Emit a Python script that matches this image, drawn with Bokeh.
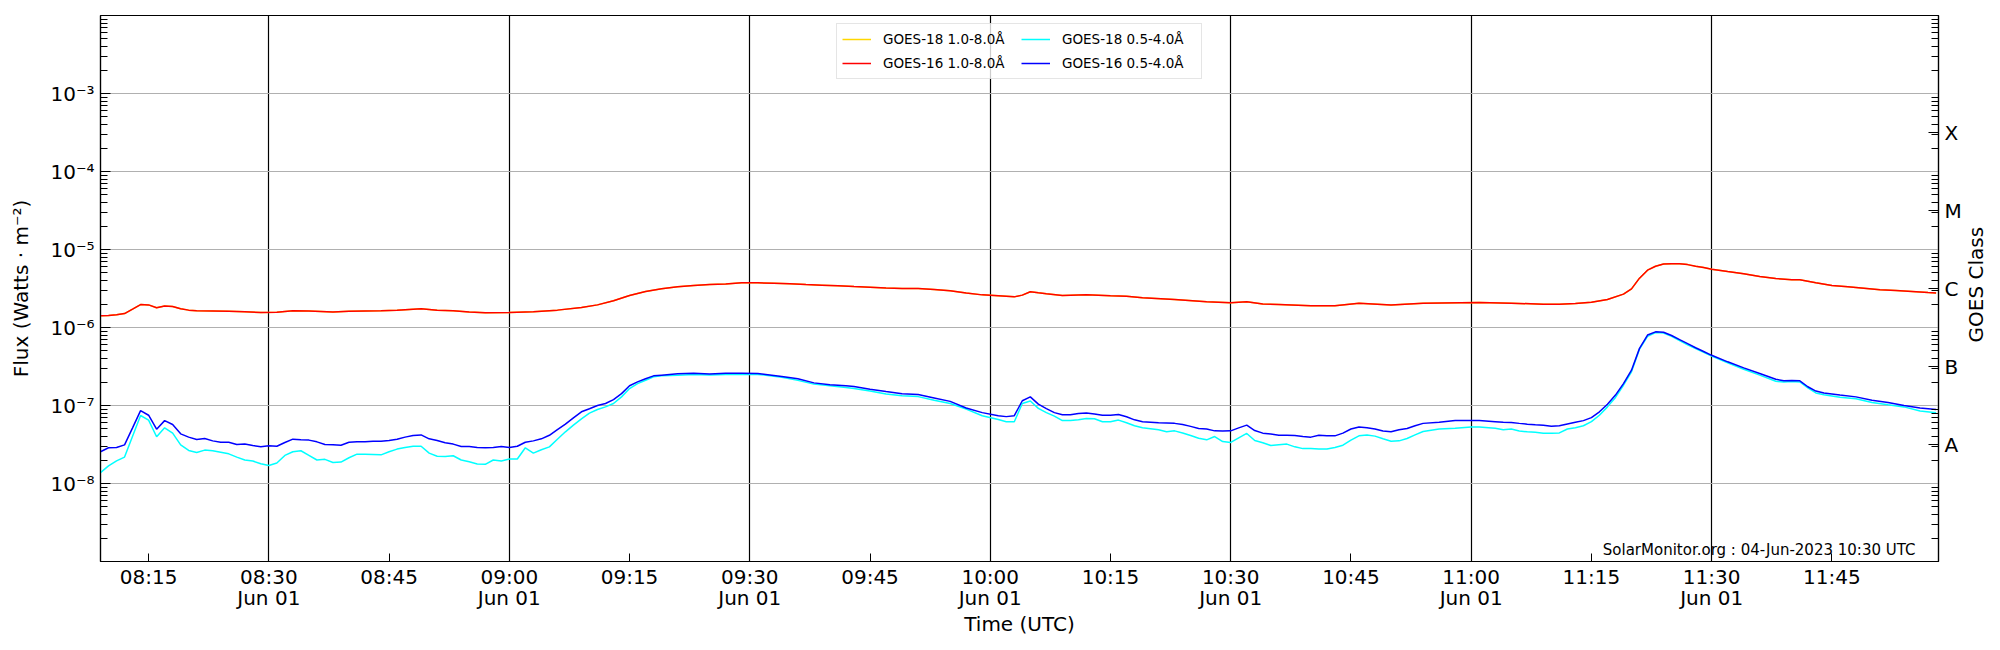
import datetime as dt
import numpy as np
from bokeh.plotting import figure
from bokeh.layouts import row
from bokeh.models import (FixedTicker, CustomJSTickFormatter, LogAxis, Range1d,
                          Legend, LegendItem, Label)
from bokeh.core.properties import value
from bokeh.embed import file_html
from bokeh.resources import INLINE

# ---------------- data ----------------
START = "2023-06-01 08:09"          # first sample time (UTC)

# minutes after START for the 0.5-4.0 Å channels
SHORT_MIN = [
    0, 1, 2, 3, 4, 5, 6, 7, 8, 9,
    10, 11, 12, 13, 14, 15, 16, 17, 18, 19,
    20, 21, 22, 23, 24, 25, 26, 27, 28, 29,
    30, 31, 32, 33, 34, 35, 36, 37, 38, 39,
    40, 41, 42, 43, 44, 45, 46, 47, 48, 49,
    50, 51, 52, 53, 54, 55, 56, 57, 58, 59,
    60, 61, 62, 63, 64, 65, 66, 67, 68, 69,
    70, 72, 74, 76, 78, 80, 82, 83, 85, 87,
    89, 91, 93, 94, 96, 98, 100, 102, 104, 106,
    108, 110, 112, 113, 114, 115, 116, 117, 118, 119,
    120, 121, 122, 123, 124, 125, 126, 127, 128, 129,
    130, 132, 133, 134, 135, 136, 137, 138, 139, 140,
    141, 142, 143, 144, 145, 146, 147, 148, 149, 150,
    151, 152, 153, 154, 155, 156, 157, 158, 159, 160,
    161, 162, 163, 164, 165, 167, 169, 171, 172, 174,
    175, 176, 177, 178, 179, 180, 181, 182, 183, 184,
    185, 186, 187, 188, 189, 190, 191, 192, 193, 194,
    195, 196, 197, 198, 199, 200, 201, 203, 205, 207,
    209, 210, 211, 212, 213, 214, 215, 217, 219, 221,
    223, 225, 227, 229,
]
# GOES-16 0.5-4.0 Å, units of 1e-8 W m^-2
G16_SHORT_E8 = [
    2.55, 2.87, 2.90, 3.13, 5.17, 8.6, 7.5, 4.97, 6.4, 5.7,
    4.33, 3.93, 3.66, 3.78, 3.52, 3.38, 3.38, 3.16, 3.2, 3.07,
    2.95, 3.05, 3.0, 3.35, 3.7, 3.63, 3.6, 3.42, 3.16, 3.13,
    3.1, 3.38, 3.42, 3.42, 3.49, 3.49, 3.56, 3.7, 3.93, 4.12,
    4.2, 3.74, 3.56, 3.33, 3.2, 2.98, 2.98, 2.9, 2.87, 2.9,
    2.98, 2.9, 3.0, 3.38, 3.52, 3.74, 4.15, 4.9, 5.76, 6.95,
    8.3, 9.1, 10.0, 10.6, 11.9, 14.2, 17.9, 20.1, 22.0, 24.0,
    24.5, 25.5, 26.0, 25.3, 26.0, 26.0, 25.7, 25.0, 23.5, 22.0,
    19.5, 18.4, 17.9, 17.5, 16.2, 15.1, 14.1, 13.8, 12.5, 11.3,
    9.3, 8.1, 7.4, 7.2, 7.4, 11.5, 12.9, 10.4, 9.1, 8.1,
    7.6, 7.6, 7.9, 8.0, 7.8, 7.5, 7.5, 7.66, 7.16, 6.55,
    6.2, 6.0, 5.95, 5.9, 5.7, 5.4, 5.07, 5.0, 4.73, 4.7,
    4.73, 5.17, 5.6, 4.78, 4.42, 4.3, 4.16, 4.14, 4.12, 4.0,
    3.93, 4.16, 4.1, 4.08, 4.42, 5.0, 5.3, 5.2, 5.0, 4.7,
    4.6, 4.9, 5.07, 5.5, 5.9, 6.1, 6.4, 6.4, 6.4, 6.2,
    6.1, 6.05, 5.9, 5.76, 5.65, 5.6, 5.43, 5.5, 5.8, 6.1,
    6.4, 7.0, 8.3, 10.4, 13.6, 19.1, 28.4, 54.0, 80.0, 88.0,
    87.0, 79.0, 70.0, 62.0, 55.0, 49.3, 44.0, 36.3, 30.4, 25.7,
    21.7, 20.7, 20.9, 20.7, 17.4, 15.3, 14.5, 13.6, 12.9, 11.7,
    10.9, 10.0, 9.3, 8.9,
]
# GOES-18 0.5-4.0 Å, units of 1e-8 W m^-2
G18_SHORT_E8 = [
    1.38, 1.68, 1.95, 2.18, 4.04, 7.44, 6.5, 3.97, 5.17, 4.42,
    3.13, 2.65, 2.5, 2.68, 2.63, 2.52, 2.4, 2.18, 2.0, 1.94,
    1.79, 1.7, 1.83, 2.29, 2.55, 2.63, 2.3, 2.0, 2.04, 1.86,
    1.88, 2.14, 2.38, 2.38, 2.36, 2.33, 2.55, 2.76, 2.9, 3.0,
    3.0, 2.45, 2.24, 2.22, 2.27, 2.0, 1.9, 1.78, 1.76, 2.0,
    1.94, 2.06, 2.06, 2.87, 2.45, 2.71, 2.95, 3.7, 4.6, 5.6,
    6.75, 8.0, 8.9, 9.6, 10.6, 12.9, 16.5, 19.1, 21.1, 23.3,
    24.0, 24.5, 25.0, 24.6, 25.0, 25.0, 25.0, 24.5, 23.0, 21.0,
    18.8, 17.9, 17.0, 16.5, 15.3, 14.0, 13.3, 13.0, 11.7, 10.6,
    9.0, 7.4, 6.6, 6.2, 6.2, 10.6, 11.4, 9.2, 8.1, 7.3,
    6.4, 6.4, 6.55, 6.8, 6.75, 6.2, 6.2, 6.5, 6.0, 5.5,
    5.2, 4.9, 4.6, 4.73, 4.45, 4.12, 3.8, 3.63, 4.0, 3.45,
    3.36, 3.85, 4.38, 3.56, 3.33, 3.07, 3.15, 3.2, 2.95, 2.8,
    2.8, 2.76, 2.76, 2.9, 3.1, 3.6, 4.08, 4.2, 4.05, 3.74,
    3.49, 3.52, 3.78, 4.2, 4.65, 5.0, 5.1, 5.3, 5.3, 5.1,
    4.9, 5.0, 4.7, 4.6, 4.55, 4.42, 4.4, 4.45, 5.0, 5.2,
    5.5, 6.2, 7.5, 9.6, 12.7, 18.2, 27.0, 53.0, 77.0, 86.0,
    85.0, 77.0, 68.0, 60.0, 53.5, 48.0, 43.0, 35.3, 29.2, 24.5,
    20.5, 20.0, 20.3, 20.0, 16.8, 14.5, 13.7, 12.8, 12.2, 10.9,
    10.2, 9.6, 8.5, 8.1,
]

# minutes after START for the 1.0-8.0 Å channels
LONG_MIN = [
    0, 1, 2, 3, 4, 5, 6, 7, 8, 9,
    10, 11, 12, 14, 16, 18, 20, 22, 24, 26,
    29, 31, 35, 37, 39, 40, 42, 44, 46, 48,
    51, 54, 57, 60, 62, 64, 66, 68, 70, 72,
    74, 76, 78, 80, 82, 84, 86, 88, 90, 92,
    94, 96, 98, 100, 102, 104, 106, 108, 110, 112,
    114, 115, 116, 117, 118, 120, 123, 126, 128, 130,
    134, 138, 141, 143, 145, 147, 151, 154, 157, 161,
    165, 172, 176, 180, 182, 184, 186, 188, 190, 191,
    192, 193, 194, 195, 196, 197, 198, 199, 200, 201,
    203, 205, 207, 209, 211, 212, 214, 216, 218, 220,
    222, 224, 226, 228, 229,
]
# GOES-16 (and GOES-18, drawn underneath) 1.0-8.0 Å, units of 1e-6 W m^-2
G16_LONG_E6 = [
    1.41, 1.43, 1.46, 1.51, 1.72, 1.97, 1.95, 1.79, 1.89, 1.86,
    1.74, 1.67, 1.64, 1.63, 1.61, 1.59, 1.56, 1.57, 1.64, 1.63,
    1.58, 1.61, 1.64, 1.67, 1.72, 1.74, 1.67, 1.64, 1.58, 1.55,
    1.56, 1.59, 1.67, 1.80, 1.95, 2.20, 2.57, 2.90, 3.13, 3.32,
    3.45, 3.55, 3.62, 3.74, 3.74, 3.70, 3.65, 3.55, 3.49, 3.42,
    3.35, 3.29, 3.22, 3.16, 3.16, 3.07, 2.95, 2.76, 2.62, 2.55,
    2.47, 2.60, 2.87, 2.78, 2.70, 2.57, 2.62, 2.55, 2.52, 2.40,
    2.29, 2.14, 2.08, 2.14, 2.00, 1.97, 1.90, 1.90, 2.05, 1.95,
    2.05, 2.09, 2.05, 1.99, 1.99, 2.03, 2.11, 2.29, 2.68, 3.13,
    4.29, 5.43, 6.10, 6.50, 6.55, 6.55, 6.40, 6.10, 5.88, 5.60,
    5.22, 4.88, 4.50, 4.25, 4.10, 4.10, 3.74, 3.45, 3.32, 3.19,
    3.04, 2.98, 2.90, 2.80, 2.76,
]
G18_LONG_E6 = list(G16_LONG_E6)

TICK_TIMES = ["08:15", "08:30", "08:45", "09:00", "09:15", "09:30", "09:45",
              "10:00", "10:15", "10:30", "10:45", "11:00", "11:15", "11:30", "11:45"]
GRID_TIMES = ["08:30", "09:00", "09:30", "10:00", "10:30", "11:00", "11:30"]
DATE_LABEL = "Jun 01"
FLUX_DECADES = [-8, -7, -6, -5, -4, -3]
CLASS_LABELS = ["A", "B", "C", "M", "X"]
CLASS_EXP = [-7.5, -6.5, -5.5, -4.5, -3.5]
LEGEND_LABELS = ["GOES-18 1.0-8.0Å", "GOES-18 0.5-4.0Å", "GOES-16 1.0-8.0Å", "GOES-16 0.5-4.0Å"]
WATERMARK = "SolarMonitor.org : 04-Jun-2023 10:30 UTC"
RIGHT_LABEL = "GOES Class"

# ---------------- helpers ----------------
t0 = dt.datetime.strptime(START, "%Y-%m-%d %H:%M")
EPOCH = dt.datetime(1970, 1, 1)


def ms(t):
    return (t - EPOCH).total_seconds() * 1000.0


def at_clock(hhmm):
    h, m = map(int, hhmm.split(":"))
    return t0.replace(hour=h, minute=m)


x_short = [t0 + dt.timedelta(minutes=m) for m in SHORT_MIN]
x_long = [t0 + dt.timedelta(minutes=m) for m in LONG_MIN]
g16s = np.array(G16_SHORT_E8) * 1e-8
g18s = np.array(G18_SHORT_E8) * 1e-8
g16l = np.array(G16_LONG_E6) * 1e-6
g18l = np.array(G18_LONG_E6) * 1e-6

FONT = "DejaVu Sans"
W, H = 1964, 645                 # main figure
QW = 31                          # narrow strip holding the right-hand axis title
FL, FT, FR, FB = 100, 15, 1940, 561      # frame edges on the page

x_end = t0 + dt.timedelta(minutes=LONG_MIN[-1] + 0.3)
p = figure(width=W, height=H, x_axis_type="datetime", y_axis_type="log",
           x_range=Range1d(t0, x_end), y_range=Range1d(1e-9, 1e-2),
           output_backend="svg", toolbar_location=None,
           min_border_left=FL, min_border_right=W - FR, min_border_top=FT,
           min_border_bottom=H - FB)
p.background_fill_color = "white"
p.outline_line_color = "black"
p.outline_line_width = 1.2
p.outline_line_alpha = 1.0

# lines
r_g18l = p.line(x_long, g18l, color="gold", line_width=1.5)
r_g18s = p.line(x_short, g18s, color="cyan", line_width=1.5)
r_g16l = p.line(x_long, g16l, color="red", line_width=1.5)
r_g16s = p.line(x_short, g16s, color="blue", line_width=1.5)

# x axis
xa = p.xaxis[0]
xa.ticker = FixedTicker(ticks=[ms(at_clock(t)) for t in TICK_TIMES], minor_ticks=[])
x_code = """
const d = new Date(tick);
const hh = String(d.getUTCHours()).padStart(2, '0');
const mm = String(d.getUTCMinutes()).padStart(2, '0');
let s = hh + ":" + mm;
if (d.getUTCMinutes() % 30 == 0) { s += "\\n" + "DATE"; }
return s;
""".replace("DATE", DATE_LABEL)
xa.formatter = CustomJSTickFormatter(code=x_code)
xa.axis_label = "Time (UTC)"

# left y axis
ya = p.yaxis[0]
minor = [k * 10.0 ** e for e in range(-9, -2) for k in range(2, 10)]
ya.ticker = FixedTicker(ticks=[10.0 ** e for e in FLUX_DECADES], minor_ticks=minor)
ya.formatter = CustomJSTickFormatter(code=r"""
const e = Math.round(Math.log10(tick));
const sup = {"-": "\u207b", "0": "\u2070", "1": "\u00b9", "2": "\u00b2", "3": "\u00b3",
             "4": "\u2074", "5": "\u2075", "6": "\u2076", "7": "\u2077", "8": "\u2078", "9": "\u2079"};
return "10" + String(e).split("").map(c => sup[c]).join("");
""")
ya.axis_label = "Flux (Watts · m⁻²)"

# right class axis
ra = LogAxis()
ra.ticker = FixedTicker(ticks=[10.0 ** e for e in CLASS_EXP], minor_ticks=minor)
r_code = """
const labels = LABELS;
const k = Math.round(Math.log10(tick) - (FIRST));
return labels[k];
""".replace("LABELS", str(CLASS_LABELS)).replace("FIRST", str(CLASS_EXP[0]))
ra.formatter = CustomJSTickFormatter(code=r_code)
p.add_layout(ra, "right")

for ax in (xa, ya, ra):
    ax.axis_line_color = "black"
    ax.axis_line_width = 1.2
    ax.major_tick_out = 0
    ax.minor_tick_out = 0
    ax.major_tick_line_color = "black"
    ax.minor_tick_line_color = "black"
    ax.major_tick_line_width = 1
    ax.minor_tick_line_width = 1
    ax.major_label_text_font = FONT
    ax.major_label_text_font_size = "20px"
    ax.major_label_text_color = "black"
    ax.axis_label_text_font = FONT
    ax.axis_label_text_font_size = "20px"
    ax.axis_label_text_font_style = "normal"
    ax.axis_label_text_color = "black"

xa.major_tick_in = 8
xa.major_label_standoff = 3
xa.major_label_text_line_height = 0.9
xa.axis_label_standoff = -1
ya.major_tick_in = 10
ya.minor_tick_in = 7
ya.major_label_standoff = 6
ya.axis_label_standoff = 14
ra.major_tick_in = 10
ra.minor_tick_in = 7
ra.major_label_standoff = 6

# grids
p.xgrid.ticker = FixedTicker(ticks=[ms(at_clock(t)) for t in GRID_TIMES])
p.xgrid.grid_line_color = "black"
p.xgrid.grid_line_width = 1.2
p.ygrid.ticker = FixedTicker(ticks=[10.0 ** e for e in FLUX_DECADES])
p.ygrid.grid_line_color = "#b0b0b0"
p.ygrid.grid_line_width = 1

# legend
legend = Legend(items=[
    LegendItem(label=LEGEND_LABELS[0], renderers=[r_g18l]),
    LegendItem(label=LEGEND_LABELS[2], renderers=[r_g16l]),
    LegendItem(label=LEGEND_LABELS[1], renderers=[r_g18s]),
    LegendItem(label=LEGEND_LABELS[3], renderers=[r_g16s]),
], location="top_center", orientation="vertical", ncols=2)
legend.margin = 8
legend.padding = 5
legend.spacing = 4
legend.glyph_width = 29
legend.glyph_height = 20
legend.label_height = 20
legend.label_width = 134
legend.label_standoff = 12
legend.label_text_font = FONT
legend.label_text_font_size = "13.5px"
legend.label_text_color = "black"
legend.border_line_color = "#cccccc"
legend.background_fill_alpha = 0.8
p.add_layout(legend)

# watermark
p.add_layout(Label(x=1915 - FL, y=12, x_units="screen", y_units="screen", text=WATERMARK,
                   text_align="right", text_baseline="alphabetic",
                   text_font=FONT, text_font_size="15px", text_color="black"))

# narrow strip to the right with the class-axis title, reading bottom to top
TITLE_CX, TITLE_CY = 1975, 318          # wanted centre of the title on the page
q = figure(width=QW, height=H, x_range=Range1d(0, QW), y_range=Range1d(0, H),
           output_backend="svg", toolbar_location=None,
           x_axis_location=None, y_axis_location=None,
           min_border=0, min_border_left=0, min_border_right=0,
           min_border_top=0, min_border_bottom=0)
q.grid.visible = False
q.outline_line_color = None
q.background_fill_color = "white"
q.border_fill_color = "white"
q.text(x=[TITLE_CX - W], y=[H - TITLE_CY], text=[RIGHT_LABEL], angle=90, angle_units="deg",
       text_align="center", text_baseline="middle",
       text_font=value(FONT), text_font_size="20px", text_color="black")

layout = row(p, q, spacing=0)

with open("out.html", "w", encoding="utf-8") as f:
    f.write(file_html(layout, INLINE))
